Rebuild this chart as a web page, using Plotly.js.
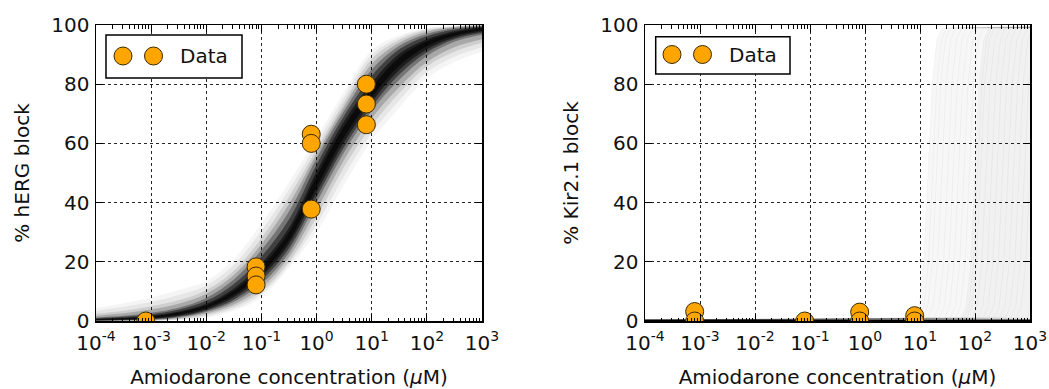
<!DOCTYPE html>
<html>
<head>
<meta charset="utf-8">
<script src="https://cdn.plot.ly/plotly-3.0.1.min.js"></script>
<style>html,body{margin:0;padding:0;background:#fff;}#chart{width:1049px;height:389px;}</style>
</head>
<body>
<div id="chart"></div>
<script>
// ---------- data ----------
// measured concentrations (uM) and % block
var hergConc = [0.0008, 0.08, 0.08, 0.08, 0.8, 0.8, 0.8, 8, 8, 8];
var hergBlock = [0, 18.3, 15.2, 12.2, 63.1, 60.0, 37.8, 80.0, 73.3, 66.3];
var kirConc = [0.0008, 0.0008, 0.08, 0.8, 0.8, 8, 8];
var kirBlock = [3.2, 0, 0, 3.0, 0, 1.8, 0];

// hERG posterior dose-response band, read at half-decade concentrations
// (outermost faint envelope -> innermost dark core)
var bandConc = [0.0001, 0.000316, 0.001, 0.00316, 0.01, 0.0316, 0.1, 0.316, 1, 3.16, 10, 31.6, 100, 316, 1000];
var hergLo1 = [0, 0, 0, 0.3, 1, 3.5, 8, 18, 30, 46, 61, 72, 82, 87.5, 91];
var hergLo2 = [0, 0.02, 0.08, 0.45, 1.5, 4.1, 9, 19, 32.5, 49, 63.5, 74.5, 84, 89.3, 92.5];
var hergLo3 = [0, 0.05, 0.15, 0.6, 2, 4.8, 10, 20, 35, 52, 66, 77, 86, 91, 94];
var hergLo4 = [0.05, 0.12, 0.28, 0.9, 2.5, 5.6, 11.2, 21.5, 37.5, 54.5, 68.5, 79, 87.5, 92.5, 95.2];
var hergLo5 = [0.1, 0.2, 0.4, 1.2, 3, 6.5, 12.5, 23, 40, 57, 71, 81.5, 89.5, 94.3, 96.7];
var hergLo6 = [0.15, 0.3, 0.6, 1.5, 3.45, 7.2, 13.8, 24.5, 41.8, 58.8, 72.5, 83.3, 90.8, 95.2, 97.3];
var hergLo7 = [0.2, 0.4, 0.8, 1.8, 3.9, 8, 15, 26, 43.5, 60.5, 74, 84.8, 91.8, 95.8, 97.8];
var hergLo8 = [0.3, 0.55, 1.05, 2.15, 4.35, 8.75, 16, 27.2, 45.2, 62.2, 75.5, 86.2, 92.8, 96.4, 98.2];
var hergHi8 = [0.55, 0.9, 1.55, 2.85, 5.3, 10.2, 18.2, 30, 48.8, 65.8, 78.8, 89, 94.5, 97.4, 98.9];
var hergHi7 = [0.7, 1.1, 1.8, 3.2, 5.8, 11, 19.5, 31.5, 50.5, 67.5, 80.5, 90.3, 95.2, 97.9, 99.2];
var hergHi6 = [0.95, 1.45, 2.3, 3.85, 6.8, 12.5, 21.8, 34.3, 52.8, 69.3, 82.8, 91.8, 96.2, 98.5, 99.5];
var hergHi5 = [1.2, 1.8, 2.8, 4.5, 7.8, 14, 24, 37, 55, 71, 85, 93, 97, 99, 99.7];
var hergHi4 = [1.8, 2.6, 3.9, 5.8, 9.2, 15.5, 26, 39.5, 56.5, 72.5, 86.8, 94, 97.7, 99.3, 99.8];
var hergHi3 = [2.5, 3.5, 5, 7, 10.5, 17, 28, 42, 58, 74, 88.5, 95, 98.3, 99.5, 99.9];
var hergHi2 = [3.5, 4.8, 6.5, 8.8, 12, 19, 30.5, 44.5, 60, 75.8, 90, 95.8, 98.7, 99.6, 100];
var hergHi1 = [4.5, 6, 8, 10.5, 13.5, 21, 33, 47, 62, 77.5, 91.5, 96.5, 99, 99.7, 100];

// Kir2.1 posterior: most samples give ~0 block; a faint set rises steeply at high concentration
var kirFlatConc = [0.0001, 1000];
var kirFlatBlock = [0, 0];
var kirHalfConc = [14, 17, 20, 25, 32, 40, 50, 63, 79, 100, 112, 126, 158, 200, 251, 316, 398, 501, 631, 794, 1000, 1585, 3162];
var kirRiseBlock = [0, 1, 5, 20, 50, 80, 95, 99, 100];
var kirRiseDecade = [-8, -0.25, -0.16, -0.075, 0, 0.075, 0.16, 0.25, 4]; // offset from half-block conc, in decades

// tick labels and texts
var xTickVals = [1e-4, 1e-3, 1e-2, 1e-1, 1, 10, 100, 1000];
var xTickText = ['10<sup>-4</sup>', '10<sup>-3</sup>', '10<sup>-2</sup>', '10<sup>-1</sup>', '10<sup>0</sup>', '10<sup>1</sup>', '10<sup>2</sup>', '10<sup>3</sup>'];
var yTickVals = [0, 20, 40, 60, 80, 100];
var xTitle = 'Amiodarone concentration (<i>μ</i>M)';
var yTitles = ['% hERG block', '% Kir2.1 block'];
var legendLabel = 'Data';

// ---------- build ----------
var W = 1049, H = 389;
var FONT = 'DejaVu Sans, Liberation Sans, sans-serif';
var ORANGE = '#FFA500';
var EDGE = '#3a2a00';
function px(x) { return x / W; }
function py(y) { return 1 - y / H; }

var minorVals = [];
for (var d = -4; d < 3; d++) {
  for (var m = 2; m <= 9; m++) minorVals.push(m * Math.pow(10, d));
}

var traces = [];
function band(lo, hi, alpha) {
  traces.push({x: bandConc, y: lo, mode: 'lines', line: {width: 0, shape: 'spline', smoothing: 1}, hoverinfo: 'skip', showlegend: false, xaxis: 'x', yaxis: 'y'});
  traces.push({x: bandConc, y: hi, mode: 'lines', fill: 'tonexty', fillcolor: 'rgba(0,0,0,' + alpha + ')', line: {width: 0, shape: 'spline', smoothing: 1}, hoverinfo: 'skip', showlegend: false, xaxis: 'x', yaxis: 'y'});
}
band(hergLo1, hergHi1, 0.04);
band(hergLo2, hergHi2, 0.06);
band(hergLo3, hergHi3, 0.10);
band(hergLo4, hergHi4, 0.18);
band(hergLo5, hergHi5, 0.30);
band(hergLo6, hergHi6, 0.45);
band(hergLo7, hergHi7, 0.55);
band(hergLo8, hergHi8, 0.60);

// Kir faint curves
function kirCurve(c50) {
  return kirRiseDecade.map(function (dd) { return c50 * Math.pow(10, dd); });
}
traces.push({x: kirCurve(kirHalfConc[0]), y: kirRiseBlock, mode: 'lines', fill: 'tozeroy', fillcolor: 'rgba(0,0,0,0.03)', line: {width: 0}, hoverinfo: 'skip', showlegend: false, xaxis: 'x2', yaxis: 'y2'});
traces.push({x: kirCurve(kirHalfConc[9]), y: kirRiseBlock, mode: 'lines', fill: 'tozeroy', fillcolor: 'rgba(0,0,0,0.025)', line: {width: 0}, hoverinfo: 'skip', showlegend: false, xaxis: 'x2', yaxis: 'y2'});
kirHalfConc.forEach(function (c) {
  traces.push({x: kirCurve(c), y: kirRiseBlock, mode: 'lines', line: {width: 1, color: 'rgba(0,0,0,0.035)'}, hoverinfo: 'skip', showlegend: false, xaxis: 'x2', yaxis: 'y2'});
});
traces.push({x: kirFlatConc, y: kirFlatBlock, mode: 'lines', line: {width: 3, color: '#000'}, hoverinfo: 'skip', showlegend: false, xaxis: 'x2', yaxis: 'y2'});

var marker = {size: 18, color: ORANGE, line: {width: 1, color: EDGE}};
traces.push({x: hergConc, y: hergBlock, mode: 'markers', name: legendLabel, marker: marker, showlegend: false, xaxis: 'x', yaxis: 'y'});
traces.push({x: kirConc, y: kirBlock, mode: 'markers', name: legendLabel, marker: marker, showlegend: false, xaxis: 'x2', yaxis: 'y2'});

var tickFont = {family: FONT, size: 20, color: '#111'};
function xa(dom, anchor) {
  return {
    type: 'log', range: [-4, 3], domain: dom, anchor: anchor,
    showline: true, linecolor: '#000', linewidth: 1.5, mirror: 'allticks',
    ticks: 'inside', ticklen: 7, tickwidth: 1, tickcolor: '#000',
    tickmode: 'array', tickvals: xTickVals, ticktext: xTickText, tickfont: tickFont, ticklabelstandoff: 3,
    showgrid: true, gridcolor: 'rgba(0,0,0,0.85)', griddash: 'dot', gridwidth: 1,
    zeroline: false, automargin: false,
    minor: {tickmode: 'array', tickvals: minorVals, ticks: 'inside', ticklen: 3.5, tickwidth: 1, tickcolor: '#000', showgrid: false},
    title: {text: xTitle, font: {family: FONT, size: 20, color: '#111'}, standoff: 16}
  };
}
function ya(dom, anchor, title) {
  return {
    range: [0, 100], domain: dom, anchor: anchor,
    showline: true, linecolor: '#000', linewidth: 1.5, mirror: 'allticks',
    ticks: 'inside', ticklen: 7, tickwidth: 1, tickcolor: '#000',
    tickmode: 'array', tickvals: yTickVals, tickfont: tickFont, ticklabelstandoff: 1,
    showgrid: true, gridcolor: 'rgba(0,0,0,0.85)', griddash: 'dot', gridwidth: 1,
    zeroline: false, automargin: false,
    title: {text: title, font: {family: FONT, size: 20, color: '#111'}, standoff: 16}
  };
}

var plots = [
  {l: 96, r: 482, box: [10, 146, 10, 53], cy: 31},
  {l: 645, r: 1030, box: [10.7, 145, 11.7, 49], cy: 29.5}
];
var plotTop = 25, plotBottom = 321;
var shapes = [], annotations = [];
plots.forEach(function (p) {
  var b = p.box;
  shapes.push({type: 'rect', xref: 'paper', yref: 'paper', x0: px(p.l + b[0]), x1: px(p.l + b[1]), y0: py(plotTop + b[3]), y1: py(plotTop + b[2]), line: {color: '#000', width: 1.5}, fillcolor: '#fff', layer: 'above'});
  [p.l + 27, p.l + 57.5].forEach(function (cx) {
    shapes.push({type: 'circle', xref: 'paper', yref: 'paper', xsizemode: 'pixel', ysizemode: 'pixel', xanchor: px(cx), yanchor: py(plotTop + p.cy), x0: -9, x1: 9, y0: -9, y1: 9, fillcolor: ORANGE, line: {color: EDGE, width: 1}, layer: 'above'});
  });
  annotations.push({xref: 'paper', yref: 'paper', x: px(p.l + 82), y: py(plotTop + p.cy), xanchor: 'left', yanchor: 'middle', showarrow: false, text: legendLabel, font: {family: FONT, size: 20, color: '#111'}});
});

var layout = {
  width: W, height: H,
  margin: {l: 0, r: 0, t: 0, b: 0},
  paper_bgcolor: '#fff', plot_bgcolor: '#fff',
  showlegend: false,
  font: {family: FONT, size: 20, color: '#111'},
  xaxis: xa([px(plots[0].l), px(plots[0].r)], 'y'),
  yaxis: ya([py(plotBottom), py(plotTop)], 'x', yTitles[0]),
  xaxis2: xa([px(plots[1].l), px(plots[1].r)], 'y2'),
  yaxis2: ya([py(plotBottom), py(plotTop)], 'x2', yTitles[1]),
  shapes: shapes,
  annotations: annotations
};

Plotly.newPlot('chart', traces, layout, {staticPlot: true, displayModeBar: false});
</script>
</body>
</html>
